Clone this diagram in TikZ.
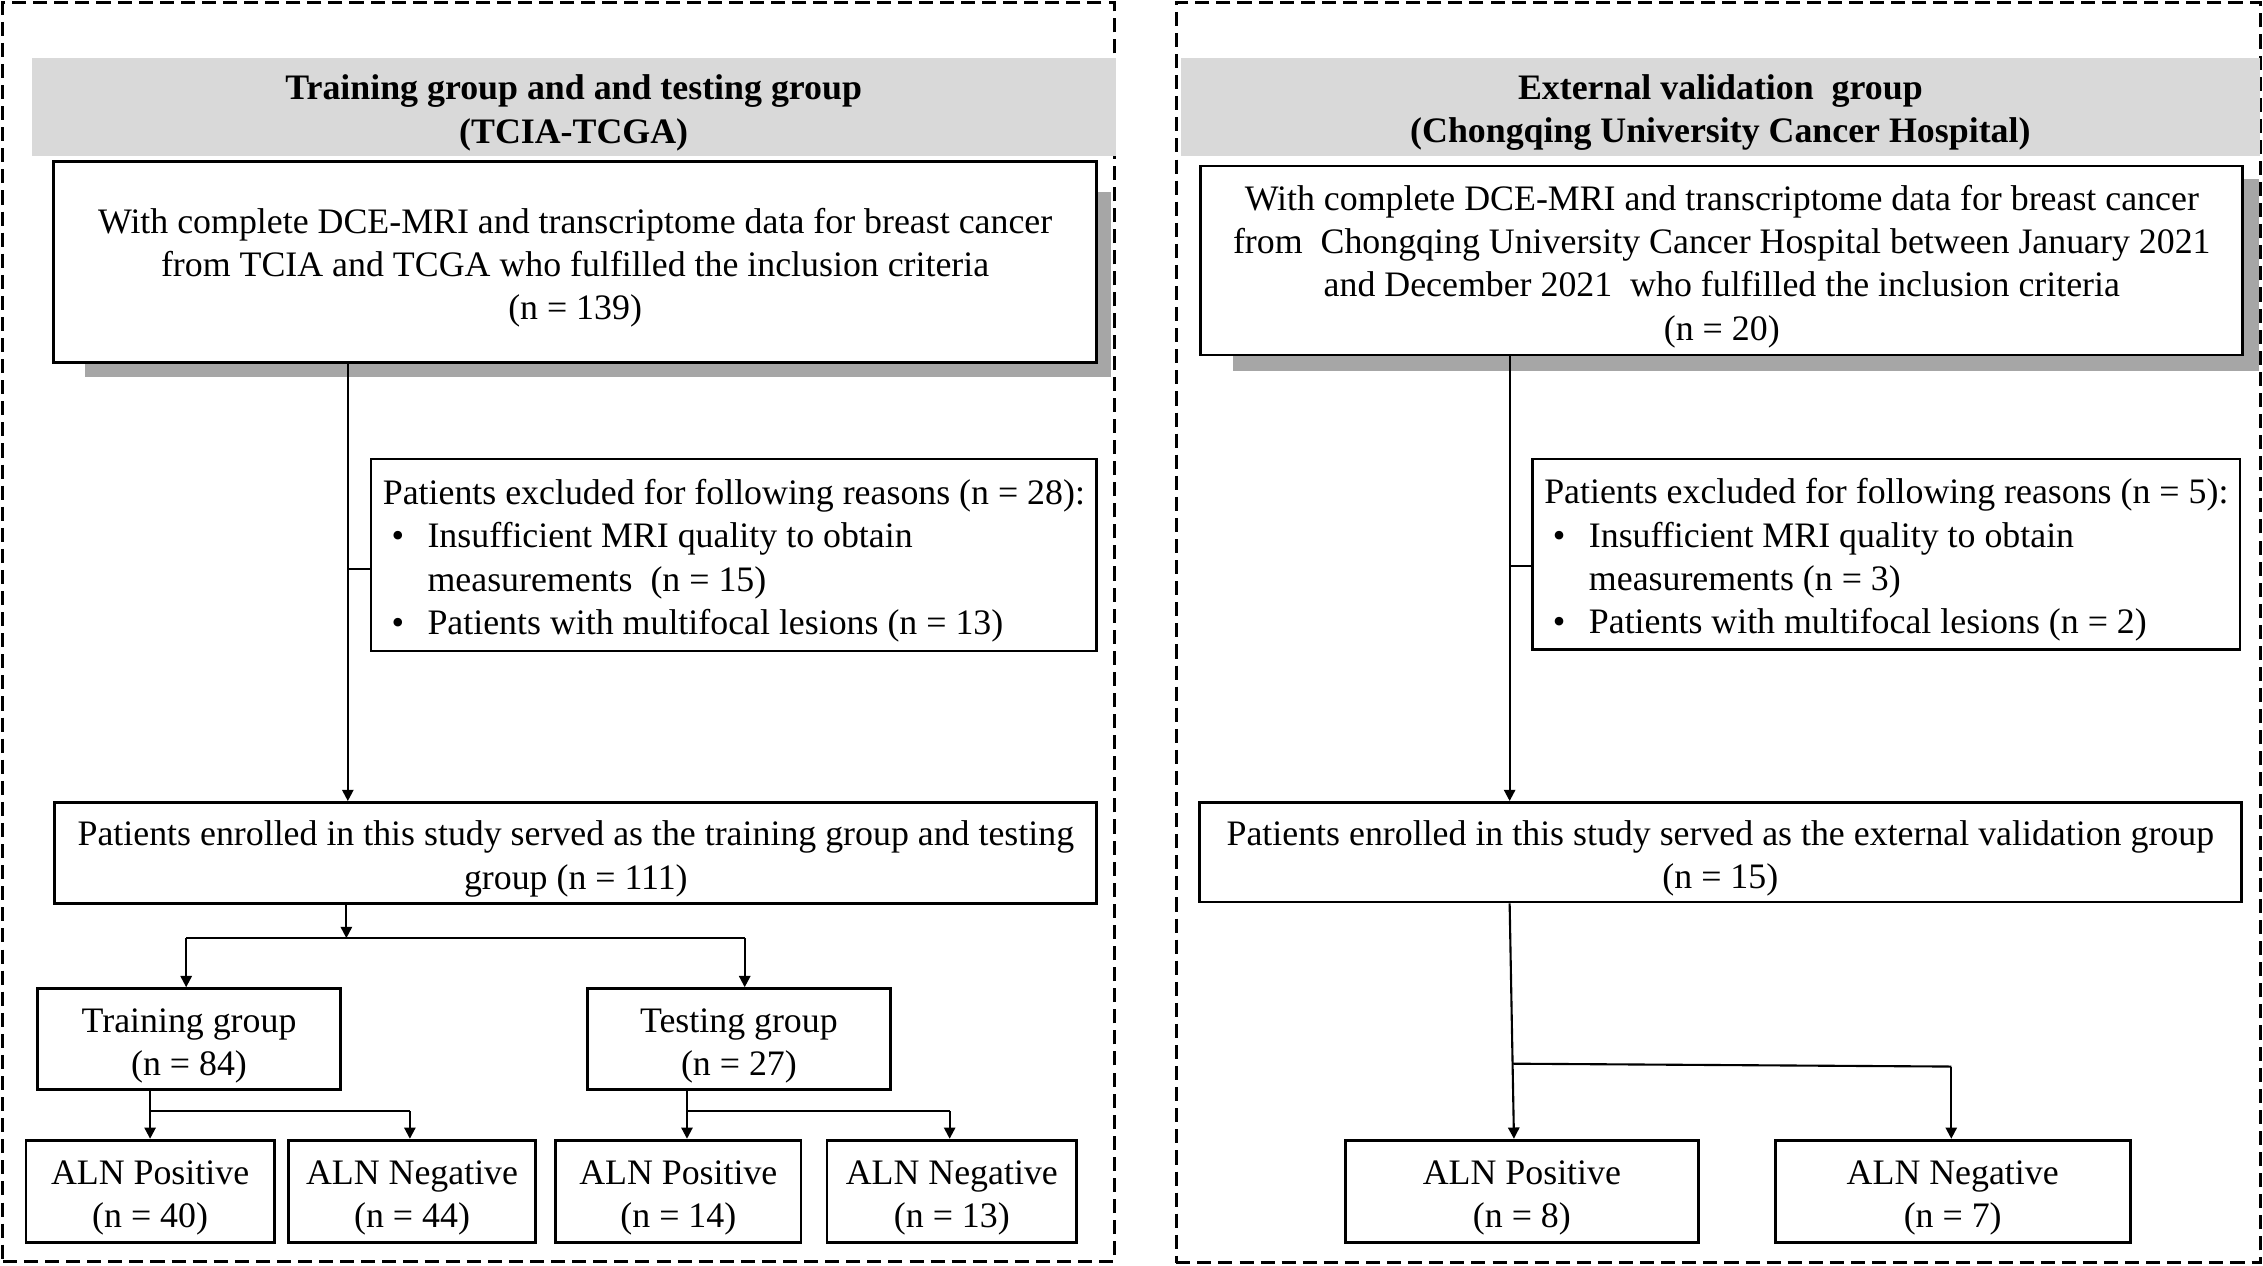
\documentclass[tikz,border=0pt]{standalone}
\usepackage{fontspec}
\setmainfont{Liberation Serif}
\usetikzlibrary{arrows.meta}
\def\pxu{0.014432cm}
\newcommand\fsz{\fontsize{10.2}{12.32}\selectfont}
\newcommand\ts{\rule{0pt}{10.5pt}}
\definecolor{hdrgray}{HTML}{D9D9D9}
\definecolor{shdgray}{HTML}{A6A6A6}
\begin{document}
\begin{tikzpicture}[x=0.014432cm, y=-0.014432cm,
  sz/.style 2 args={minimum width=#1*\pxu, minimum height=#2*\pxu},
  frame/.style={draw, line width=0.8pt, dash pattern=on 4pt off 2pt, inner sep=0pt},
  hdr/.style={fill=hdrgray, inner sep=0pt, align=center, font=\fsz\bfseries},
  shd/.style={fill=shdgray, inner sep=0pt},
  boxs/.style={draw, line width=0.8pt, fill=white, inner sep=0pt, align=center, font=\fsz},
  exbox/.style={draw, line width=0.8pt, fill=white, inner sep=0pt, align=left, font=\fsz},
  line/.style={line width=0.6pt},
  arr/.style={line width=0.6pt, -{Triangle[length=3.2pt,width=3.2pt]}}
]
\useasboundingbox (0,0) rectangle (1568,876.5);

% frames
\node[frame, sz={770}{872}] (frameL) at (387,438) {};
\node[frame, sz={751}{873}] (frameR) at (1190.5,438.5) {};

% headers
\node[hdr, sz={751}{68}] (hdrL) at (397.5,74) {\ts Training group and and testing group\\(TCIA-TCGA)};
\node[hdr, sz={748}{68}] (hdrR) at (1192,74) {\ts External validation\ \ group\\(Chongqing University Cancer Hospital)};

% shadows
\node[shd, sz={711}{128}] (shdL) at (414.5,197) {};
\node[shd, sz={711}{133}] (shdR) at (1209.5,190.5) {};

% left panel
\node[boxs, sz={723}{139}] (box1L) at (398.5,181.5) {\ts With complete DCE-MRI and transcriptome data for breast cancer\\from TCIA and TCGA who fulfilled the inclusion criteria\\(n = 139)};
\node[exbox, sz={503}{133}] (exL) at (508.5,384.5) {\ts Patients excluded for following reasons (n = 28):\\
\makebox[0.447cm][l]{\hspace{0.087cm}\textbullet}Insufficient MRI quality to obtain\\
\hspace*{0.447cm}measurements\ \ (n = 15)\\
\makebox[0.447cm][l]{\hspace{0.087cm}\textbullet}Patients with multifocal lesions (n = 13)};
\node[boxs, sz={722}{70}] (box3L) at (399,591) {\ts Patients enrolled in this study served as the training group and testing\\group (n = 111)};
\node[boxs, sz={210}{70}] (trn) at (131,720) {\ts Training group\\(n = 84)};
\node[boxs, sz={210}{70}] (tst) at (512,720) {\ts Testing group\\(n = 27)};
\node[boxs, sz={172}{71}] (alnA) at (104,825.5) {\ts ALN Positive\\(n = 40)};
\node[boxs, sz={171}{71}] (alnB) at (285.5,825.5) {\ts ALN Negative\\(n = 44)};
\node[boxs, sz={170}{71}] (alnC) at (470,825.5) {\ts ALN Positive\\(n = 14)};
\node[boxs, sz={173}{71}] (alnD) at (659.5,825.5) {\ts ALN Negative\\(n = 13)};

% right panel
\node[boxs, sz={722}{131}] (box1R) at (1193,180.5) {\ts With complete DCE-MRI and transcriptome data for breast cancer\\from\ \ Chongqing University Cancer Hospital between January 2021\\and December 2021\ \ who fulfilled the inclusion criteria\\(n = 20)};
\node[exbox, sz={490}{132}] (exR) at (1307,384) {\ts Patients excluded for following reasons (n = 5):\\
\makebox[0.447cm][l]{\hspace{0.087cm}\textbullet}Insufficient MRI quality to obtain\\
\hspace*{0.447cm}measurements (n = 3)\\
\makebox[0.447cm][l]{\hspace{0.087cm}\textbullet}Patients with multifocal lesions (n = 2)};
\node[boxs, sz={722}{69}] (box3R) at (1192,590.5) {\ts Patients enrolled in this study served as the external validation group\\(n = 15)};
\node[boxs, sz={245}{71}] (posR) at (1054.5,825.5) {\ts ALN Positive\\(n = 8)};
\node[boxs, sz={246}{71}] (negR) at (1353,825.5) {\ts ALN Negative\\(n = 7)};

% coordinates
\coordinate (xL) at (241,0);
\coordinate (tL) at (241,394);
\coordinate (jL) at (240,650);
\coordinate (bL1) at (129,650);
\coordinate (bL2) at (516,650);
\coordinate (jA) at (104,770);
\coordinate (jB) at (284,770);
\coordinate (jC) at (476,770);
\coordinate (jD) at (658,770);
\coordinate (xR) at (1046,0);
\coordinate (tR) at (1046,392);
\coordinate (xR2) at (1049,0);
\coordinate (jR) at (1048,737);
\coordinate (jR2) at (1352,739);

% left connectors
\draw[arr] (xL |- box1L.south) -- (xL |- box3L.north);
\draw[line] (tL) -- (tL -| exL.west);
\draw[arr] (jL |- box3L.south) -- (jL);
\draw[line] (bL1) -- (bL2);
\draw[arr] (bL1) -- (bL1 |- trn.north);
\draw[arr] (bL2) -- (bL2 |- tst.north);
\draw[arr] (jA |- trn.south) -- (jA |- alnA.north);
\draw[line] (jA) -- (jB);
\draw[arr] (jB) -- (jB |- alnB.north);
\draw[arr] (jC |- tst.south) -- (jC |- alnC.north);
\draw[line] (jC) -- (jD);
\draw[arr] (jD) -- (jD |- alnD.north);

% right connectors
\draw[arr] (xR |- box1R.south) -- (xR |- box3R.north);
\draw[line] (tR) -- (tR -| exR.west);
\draw[arr] (xR |- box3R.south) -- (xR2 |- posR.north);
\draw[line] (jR) -- (jR2);
\draw[arr] (jR2) -- (jR2 |- negR.north);
\end{tikzpicture}
\end{document}
